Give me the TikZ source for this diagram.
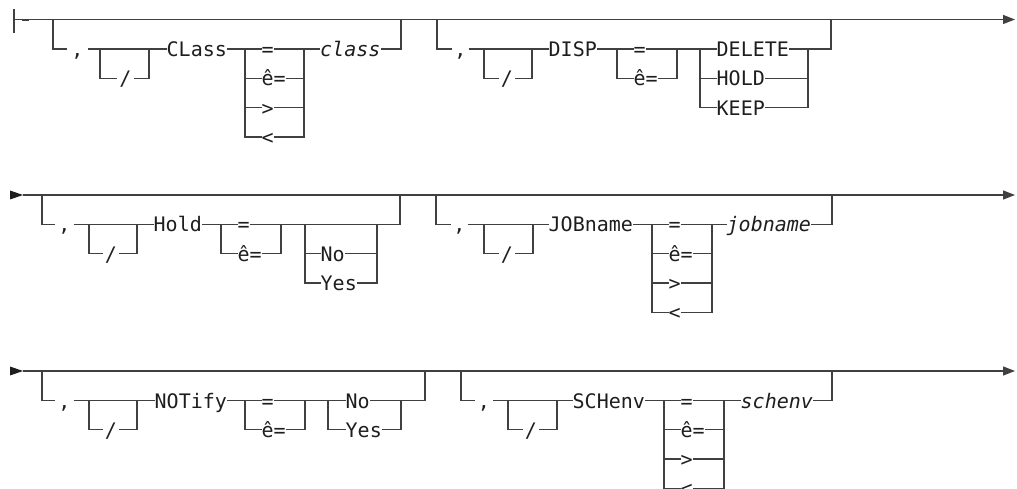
\documentclass[tikz,border=0pt]{standalone}
\usepackage{fontspec}
\setmonofont{DejaVu Sans Mono}
\usetikzlibrary{arrows.meta}
\definecolor{linec}{HTML}{404040}
\definecolor{txtc}{HTML}{1E1E1E}
\newcommand\kwfont{\ttfamily\fontsize{20}{20}\selectfont}
\tikzset{
  rr/.style={draw=linec, line width=1.3pt},
  kw/.style={font=\kwfont, text=txtc, inner sep=0pt, anchor=west, text height=15pt, text depth=0pt},
  var/.style={kw, font=\kwfont\itshape},
  punct/.style={font=\kwfont, text=txtc, inner sep=0pt, anchor=center, text height=15pt, text depth=0pt, minimum width=#1},
  endarrow/.style={rr, -{Triangle[length=12pt,width=9pt]}},
  startarrow/.style={fill=txtc}
}
\begin{document}
\begin{tikzpicture}[x=1pt,y=-1pt]
\useasboundingbox (0,0) rectangle (1017,489);

% ---------- main lines ----------
\coordinate (st1) at (14,19.5);   \coordinate (end1) at (1015,19.5);
\coordinate (st2) at (23,195);    \coordinate (end2) at (1015,195);
\coordinate (st3) at (23,371);    \coordinate (end3) at (1015,371);
\coordinate (bar1) at (14,9.5);   \coordinate (bar2) at (14,33.5);
\draw[rr] (bar1) -- (bar2);
\draw[endarrow] (st1) -- (end1);
\draw[draw=linec, line width=2.4pt] (22,20) -- (29,20);
\fill[startarrow] (10,190.5) -- (st2) -- (10,199.5) -- cycle;
\draw[endarrow] (st2) -- (end2);
\fill[startarrow] (10,366.5) -- (st3) -- (10,375.5) -- cycle;
\draw[endarrow] (st3) -- (end3);

% ================= ROW 1 =================
% ---- Group A : CLass ----
\coordinate (A0) at (53,19.5); \coordinate (A1) at (53,49);
\node[punct=20pt] (Acm) at (77.5,49) {,};
\draw[rr] (A0) -- (A1) -- (Acm.west);
\coordinate (Alt) at (100,49); \coordinate (Alb) at (100,78.3);
\coordinate (Art) at (149,49); \coordinate (Arb) at (149,78.3);
\node[punct=16pt] (Asl) at (125.5,78.3) {/};
\draw[rr] (Alt) -- (Alb) -- (Asl.west);
\draw[rr] (Asl.east) -- (Arb) -- (Art);
\node[kw] (Akw) at (166.5,49) {CLass};
\draw[rr] (Acm.east) -- (Akw.west);
\node[kw] (Ac0) at (261.5,49) {=};
\node[kw] (Ac1) at (261.5,78.3) {ê=};
\node[kw] (Ac2) at (261.5,107.6) {>};
\node[kw] (Ac3) at (261.5,136.9) {<};
\coordinate (AcLt) at (245,49); \coordinate (AcLb) at (245,136.9);
\coordinate (AcRt) at (304,49); \coordinate (AcRb) at (304,136.9);
\draw[rr] (Akw.east) -- (Ac0.west);
\draw[rr] (AcLt) -- (AcLb) -- (Ac3.west);
\draw[rr] (Ac3.east) -- (AcRb) -- (AcRt);
\draw[rr] (AcLt |- Ac1.west) -- (Ac1.west);
\draw[rr] (Ac1.east) -- (AcRt |- Ac1.east);
\draw[rr] (AcLt |- Ac2.west) -- (Ac2.west);
\draw[rr] (Ac2.east) -- (AcRt |- Ac2.east);
\node[var] (Av) at (320,49) {class};
\draw[rr] (Ac0.east) -- (Av.west);
\coordinate (Ae1) at (401,49); \coordinate (Ae0) at (401,19.5);
\draw[rr] (Av.east) -- (Ae1) -- (Ae0);

% ---- Group B : DISP ----
\coordinate (B0) at (437,19.5); \coordinate (B1) at (437,49);
\node[punct=16pt] (Bcm) at (460.5,49) {,};
\draw[rr] (B0) -- (B1) -- (Bcm.west);
\coordinate (Blt) at (484,49); \coordinate (Blb) at (484,78.3);
\coordinate (Brt) at (532,49); \coordinate (Brb) at (532,78.3);
\node[punct=16pt] (Bsl) at (507,78.3) {/};
\draw[rr] (Blt) -- (Blb) -- (Bsl.west);
\draw[rr] (Bsl.east) -- (Brb) -- (Brt);
\node[kw] (Bkw) at (548.5,49) {DISP};
\draw[rr] (Bcm.east) -- (Bkw.west);
\node[kw] (Bc0) at (633.5,49) {=};
\node[kw] (Bc1) at (633.5,78.3) {ê=};
\coordinate (BcLt) at (617,49); \coordinate (BcLb) at (617,78.3);
\coordinate (BcRt) at (677,49); \coordinate (BcRb) at (677,78.3);
\draw[rr] (Bkw.east) -- (Bc0.west);
\draw[rr] (BcLt) -- (BcLb) -- (Bc1.west);
\draw[rr] (Bc1.east) -- (BcRb) -- (BcRt);
\node[kw] (Bd0) at (716.5,49) {DELETE};
\node[kw] (Bd1) at (716.5,78.3) {HOLD};
\node[kw] (Bd2) at (716.5,107.6) {KEEP};
\coordinate (BdLt) at (700,49); \coordinate (BdLb) at (700,107.6);
\coordinate (BdRt) at (808,49); \coordinate (BdRb) at (808,107.6);
\draw[rr] (Bc0.east) -- (Bd0.west);
\draw[rr] (BdLt) -- (BdLb) -- (Bd2.west);
\draw[rr] (Bd2.east) -- (BdRb) -- (BdRt);
\draw[rr] (BdLt |- Bd1.west) -- (Bd1.west);
\draw[rr] (Bd1.east) -- (BdRt |- Bd1.east);
\coordinate (Be1) at (831,49); \coordinate (Be0) at (831,19.5);
\draw[rr] (Bd0.east) -- (Be1) -- (Be0);

% ================= ROW 2 =================
% ---- Group C : Hold ----
\coordinate (C0) at (42,195); \coordinate (C1) at (42,224.5);
\node[punct=18pt] (Ccm) at (64.5,224.5) {,};
\draw[rr] (C0) -- (C1) -- (Ccm.west);
\coordinate (Clt) at (89,224.5); \coordinate (Clb) at (89,253.8);
\coordinate (Crt) at (137,224.5); \coordinate (Crb) at (137,253.8);
\node[punct=16pt] (Csl) at (111,253.8) {/};
\draw[rr] (Clt) -- (Clb) -- (Csl.west);
\draw[rr] (Csl.east) -- (Crb) -- (Crt);
\node[kw] (Ckw) at (153.5,224.5) {Hold};
\draw[rr] (Ccm.east) -- (Ckw.west);
\node[kw] (Cc0) at (237.5,224.5) {=};
\node[kw] (Cc1) at (237.5,253.8) {ê=};
\coordinate (CcLt) at (221,224.5); \coordinate (CcLb) at (221,253.8);
\coordinate (CcRt) at (281,224.5); \coordinate (CcRb) at (281,253.8);
\draw[rr] (Ckw.east) -- (Cc0.west);
\draw[rr] (CcLt) -- (CcLb) -- (Cc1.west);
\draw[rr] (Cc1.east) -- (CcRb) -- (CcRt);
\node[kw] (Co1) at (320.5,253.8) {No};
\node[kw] (Co2) at (320.5,283.1) {Yes};
\coordinate (CoLt) at (305,224.5); \coordinate (CoLb) at (305,283.1);
\coordinate (CoRt) at (377,224.5); \coordinate (CoRb) at (377,283.1);
\draw[rr] (CoLt) -- (CoLb) -- (Co2.west);
\draw[rr] (Co2.east) -- (CoRb) -- (CoRt);
\draw[rr] (CoLt |- Co1.west) -- (Co1.west);
\draw[rr] (Co1.east) -- (CoRt |- Co1.east);
\coordinate (Ce1) at (400,224.5); \coordinate (Ce0) at (400,195);
\draw[rr] (Cc0.east) -- (Ce1) -- (Ce0);

% ---- Group D : JOBname ----
\coordinate (D0) at (436,195); \coordinate (D1) at (436,224.5);
\node[punct=16pt] (Dcm) at (459.5,224.5) {,};
\draw[rr] (D0) -- (D1) -- (Dcm.west);
\coordinate (Dlt) at (484,224.5); \coordinate (Dlb) at (484,253.8);
\coordinate (Drt) at (533,224.5); \coordinate (Drb) at (533,253.8);
\node[punct=16pt] (Dsl) at (507,253.8) {/};
\draw[rr] (Dlt) -- (Dlb) -- (Dsl.west);
\draw[rr] (Dsl.east) -- (Drb) -- (Drt);
\node[kw] (Dkw) at (548.5,224.5) {JOBname};
\draw[rr] (Dcm.east) -- (Dkw.west);
\node[kw] (Dc0) at (668.5,224.5) {=};
\node[kw] (Dc1) at (668.5,253.8) {ê=};
\node[kw] (Dc2) at (668.5,283.1) {>};
\node[kw] (Dc3) at (668.5,312.4) {<};
\coordinate (DcLt) at (652,224.5); \coordinate (DcLb) at (652,312.4);
\coordinate (DcRt) at (712,224.5); \coordinate (DcRb) at (712,312.4);
\draw[rr] (Dkw.east) -- (Dc0.west);
\draw[rr] (DcLt) -- (DcLb) -- (Dc3.west);
\draw[rr] (Dc3.east) -- (DcRb) -- (DcRt);
\draw[rr] (DcLt |- Dc1.west) -- (Dc1.west);
\draw[rr] (Dc1.east) -- (DcRt |- Dc1.east);
\draw[rr] (DcLt |- Dc2.west) -- (Dc2.west);
\draw[rr] (Dc2.east) -- (DcRt |- Dc2.east);
\node[var] (Dv) at (726.5,224.5) {jobname};
\draw[rr] (Dc0.east) -- (Dv.west);
\coordinate (De1) at (832,224.5); \coordinate (De0) at (832,195);
\draw[rr] (Dv.east) -- (De1) -- (De0);

% ================= ROW 3 =================
% ---- Group E : NOTify ----
\coordinate (E0) at (42,371); \coordinate (E1) at (42,400.5);
\node[punct=18pt] (Ecm) at (64.5,400.5) {,};
\draw[rr] (E0) -- (E1) -- (Ecm.west);
\coordinate (Elt) at (89,400.5); \coordinate (Elb) at (89,429.8);
\coordinate (Ert) at (137,400.5); \coordinate (Erb) at (137,429.8);
\node[punct=16pt] (Esl) at (111,429.8) {/};
\draw[rr] (Elt) -- (Elb) -- (Esl.west);
\draw[rr] (Esl.east) -- (Erb) -- (Ert);
\node[kw] (Ekw) at (154.5,400.5) {NOTify};
\draw[rr] (Ecm.east) -- (Ekw.west);
\node[kw] (Ec0) at (261.5,400.5) {=};
\node[kw] (Ec1) at (261.5,429.8) {ê=};
\coordinate (EcLt) at (245,400.5); \coordinate (EcLb) at (245,429.8);
\coordinate (EcRt) at (305,400.5); \coordinate (EcRb) at (305,429.8);
\draw[rr] (Ekw.east) -- (Ec0.west);
\draw[rr] (EcLt) -- (EcLb) -- (Ec1.west);
\draw[rr] (Ec1.east) -- (EcRb) -- (EcRt);
\node[kw] (En0) at (345.5,400.5) {No};
\node[kw] (En1) at (345.5,429.8) {Yes};
\coordinate (EnLt) at (328,400.5); \coordinate (EnLb) at (328,429.8);
\coordinate (EnRt) at (401,400.5); \coordinate (EnRb) at (401,429.8);
\draw[rr] (Ec0.east) -- (En0.west);
\draw[rr] (EnLt) -- (EnLb) -- (En1.west);
\draw[rr] (En1.east) -- (EnRb) -- (EnRt);
\coordinate (Ee1) at (425,400.5); \coordinate (Ee0) at (425,371);
\draw[rr] (En0.east) -- (Ee1) -- (Ee0);

% ---- Group F : SCHenv ----
\coordinate (F0) at (461,371); \coordinate (F1) at (461,400.5);
\node[punct=18pt] (Fcm) at (484,400.5) {,};
\draw[rr] (F0) -- (F1) -- (Fcm.west);
\coordinate (Flt) at (508,400.5); \coordinate (Flb) at (508,429.8);
\coordinate (Frt) at (557,400.5); \coordinate (Frb) at (557,429.8);
\node[punct=16pt] (Fsl) at (531,429.8) {/};
\draw[rr] (Flt) -- (Flb) -- (Fsl.west);
\draw[rr] (Fsl.east) -- (Frb) -- (Frt);
\node[kw] (Fkw) at (572.5,400.5) {SCHenv};
\draw[rr] (Fcm.east) -- (Fkw.west);
\node[kw] (Fc0) at (680.5,400.5) {=};
\node[kw] (Fc1) at (680.5,429.8) {ê=};
\node[kw] (Fc2) at (680.5,459.1) {>};
\node[kw] (Fc3) at (680.5,488.4) {<};
\coordinate (FcLt) at (664,400.5); \coordinate (FcLb) at (664,488.4);
\coordinate (FcRt) at (724,400.5); \coordinate (FcRb) at (724,488.4);
\draw[rr] (Fkw.east) -- (Fc0.west);
\draw[rr] (FcLt) -- (FcLb) -- (Fc3.west);
\draw[rr] (Fc3.east) -- (FcRb) -- (FcRt);
\draw[rr] (FcLt |- Fc1.west) -- (Fc1.west);
\draw[rr] (Fc1.east) -- (FcRt |- Fc1.east);
\draw[rr] (FcLt |- Fc2.west) -- (Fc2.west);
\draw[rr] (Fc2.east) -- (FcRt |- Fc2.east);
\node[var] (Fv) at (740.5,400.5) {schenv};
\draw[rr] (Fc0.east) -- (Fv.west);
\coordinate (Fe1) at (832,400.5); \coordinate (Fe0) at (832,371);
\draw[rr] (Fv.east) -- (Fe1) -- (Fe0);
\end{tikzpicture}
\end{document}
